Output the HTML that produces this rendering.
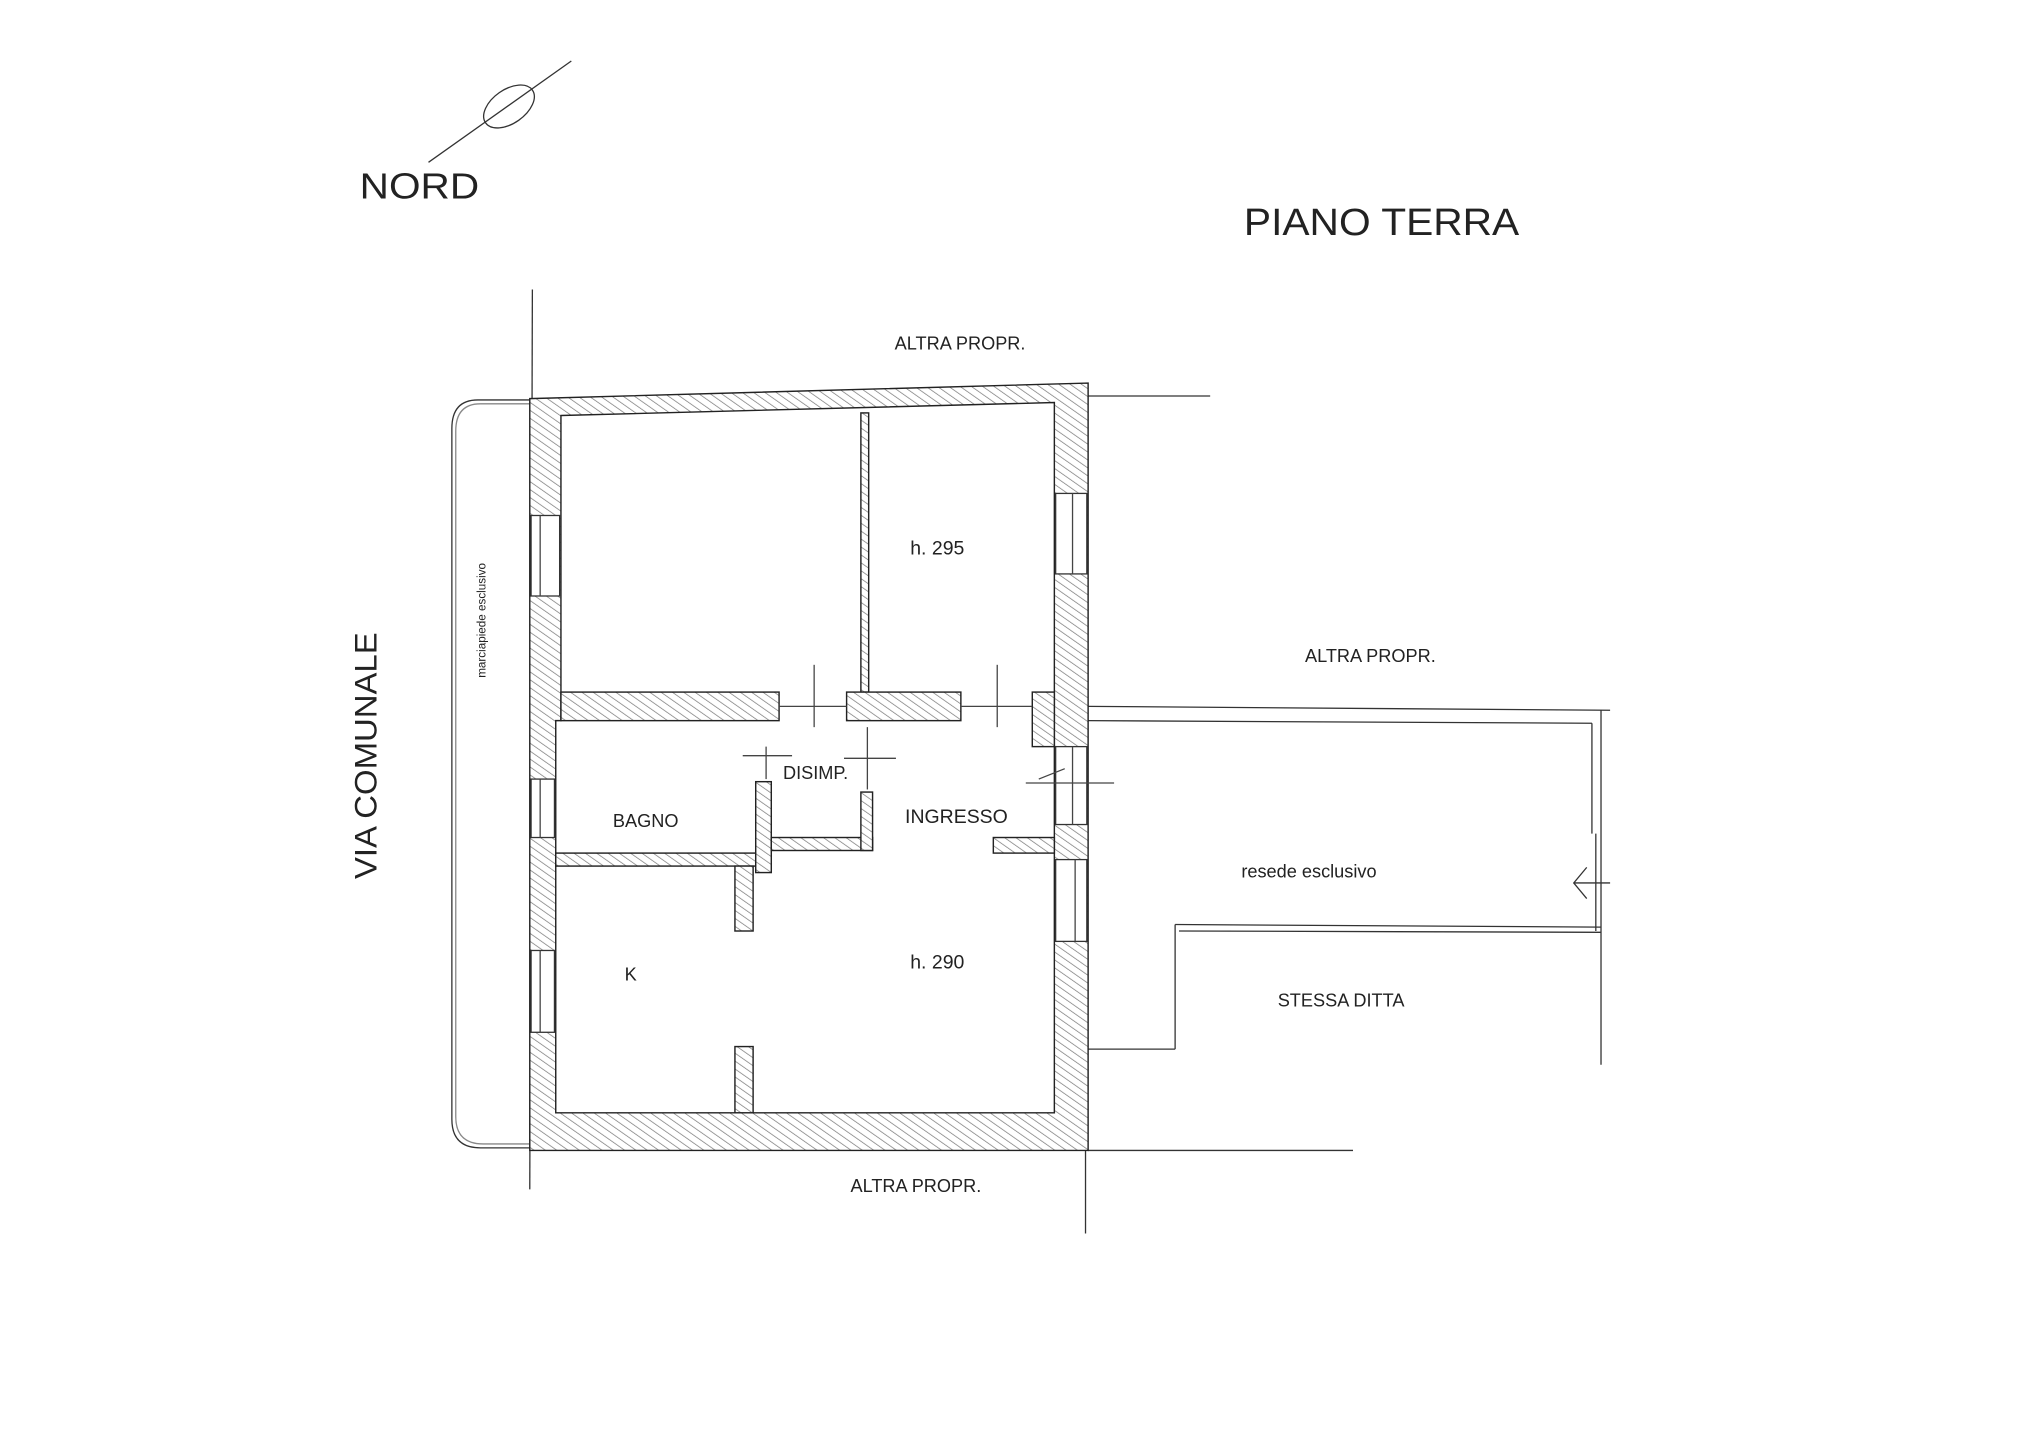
<!DOCTYPE html>
<html><head><meta charset="utf-8"><style>
html,body{margin:0;padding:0;background:#fff;}
svg{display:block;}
text{font-family:"Liberation Sans",sans-serif;fill:#222;}
</style></head><body>
<svg width="2036" height="1440" viewBox="0 0 1568 1109" preserveAspectRatio="none" xmlns="http://www.w3.org/2000/svg">
<defs>
<pattern id="h" width="5" height="5" patternUnits="userSpaceOnUse" patternTransform="rotate(-55)">
<rect width="5" height="5" fill="#fff"/>
<line x1="0" y1="0" x2="0" y2="5" stroke="#777" stroke-width="1.1"/>
</pattern>
</defs>
<rect width="1568" height="1109" fill="#fff"/>
<g stroke="#333" stroke-width="1" fill="none">
<line x1="330" y1="125" x2="440" y2="47"/>
<ellipse cx="392" cy="82" rx="22" ry="13" transform="rotate(-35 392 82)"/>
<line x1="410" y1="223" x2="408" y2="916"/>
<line x1="836" y1="295" x2="836" y2="950"/>
<line x1="838" y1="305" x2="932" y2="305"/>
<line x1="838" y1="886" x2="1042" y2="886"/>
<path d="M408 308 H368 Q348 308 348 330 V862 Q348 884 370 884 H408"/>
<path d="M408 311 H370 Q351 311 351 332 V860 Q351 881 372 881 H408" stroke="#888"/>
<line x1="838" y1="544" x2="1240" y2="547"/>
<line x1="838" y1="555" x2="1226" y2="557"/>
<line x1="1226" y1="557" x2="1226" y2="642"/>
<line x1="1233" y1="547" x2="1233" y2="820"/>
<line x1="1229" y1="642" x2="1229" y2="717"/>
<line x1="905" y1="712" x2="1233" y2="714"/>
<line x1="908" y1="717" x2="1233" y2="718"/>
<line x1="905" y1="712" x2="905" y2="808"/>
<line x1="838" y1="808" x2="905" y2="808"/>
<path d="M1222 668 L1212 680 L1222 692 M1212 680 H1240"/>
</g>
<g fill="url(#h)" stroke="#222" stroke-width="1.1">
<path fill-rule="evenodd" d="M408 307 L838 295 L838 886 L408 886 Z M432 320 L812 310 L812 857 L428 857 L428 555 L432 555 Z"/>
<rect x="663" y="318" width="6" height="215"/>
<rect x="432" y="533" width="168" height="22"/>
<rect x="652" y="533" width="88" height="22"/>
<rect x="795" y="533" width="17" height="42"/>
<rect x="428" y="657" width="154" height="10"/>
<rect x="582" y="602" width="12" height="70"/>
<rect x="566" y="667" width="14" height="50"/>
<rect x="594" y="645" width="78" height="10"/>
<rect x="663" y="610" width="9" height="45"/>
<rect x="765" y="645" width="47" height="12"/>
<rect x="566" y="806" width="14" height="51"/>
</g>
<g fill="#fff" stroke="#333" stroke-width="1">
<rect x="409" y="397" width="22" height="62"/>
<rect x="409" y="600" width="18" height="45"/>
<rect x="409" y="732" width="18" height="63"/>
<rect x="813" y="380" width="24" height="62"/>
<rect x="813" y="575" width="24" height="60"/>
<rect x="813" y="662" width="24" height="63"/>
</g>
<g stroke="#444" stroke-width="1">
<line x1="416" y1="397" x2="416" y2="459"/><line x1="416" y1="600" x2="416" y2="645"/><line x1="416" y1="732" x2="416" y2="795"/>
<line x1="826" y1="380" x2="826" y2="442"/><line x1="826" y1="575" x2="826" y2="635"/><line x1="828" y1="662" x2="828" y2="725"/>
<line x1="600" y1="544" x2="652" y2="544"/><line x1="740" y1="544" x2="795" y2="544"/>
<line x1="627" y1="512" x2="627" y2="560"/><line x1="768" y1="512" x2="768" y2="560"/>
<line x1="572" y1="582" x2="610" y2="582"/><line x1="590" y1="575" x2="590" y2="600"/>
<line x1="650" y1="584" x2="690" y2="584"/><line x1="668" y1="560" x2="668" y2="608"/>
<line x1="790" y1="603" x2="858" y2="603"/><line x1="800" y1="600" x2="820" y2="592"/>
</g>
<text x="277" y="153" font-size="28" textLength="92" lengthAdjust="spacingAndGlyphs">NORD</text>
<text x="958" y="181" font-size="29" textLength="212" lengthAdjust="spacingAndGlyphs">PIANO TERRA</text>
<text x="689" y="269" font-size="14">ALTRA PROPR.</text>
<text x="1005" y="510" font-size="14">ALTRA PROPR.</text>
<text x="655" y="918" font-size="14">ALTRA PROPR.</text>
<text x="701" y="427" font-size="15">h. 295</text>
<text x="701" y="746" font-size="15">h. 290</text>
<text x="603" y="600" font-size="14">DISIMP.</text>
<text x="472" y="637" font-size="14">BAGNO</text>
<text x="697" y="634" font-size="15">INGRESSO</text>
<text x="481" y="755" font-size="14">K</text>
<text x="956" y="676" font-size="14">resede esclusivo</text>
<text x="984" y="775" font-size="14">STESSA DITTA</text>
<text transform="translate(290 677) rotate(-90)" font-size="24" textLength="190" lengthAdjust="spacingAndGlyphs">VIA COMUNALE</text>
<text transform="translate(374 522) rotate(-90)" font-size="9" fill="#888">marciapiede esclusivo</text>
</svg>
</body></html>
